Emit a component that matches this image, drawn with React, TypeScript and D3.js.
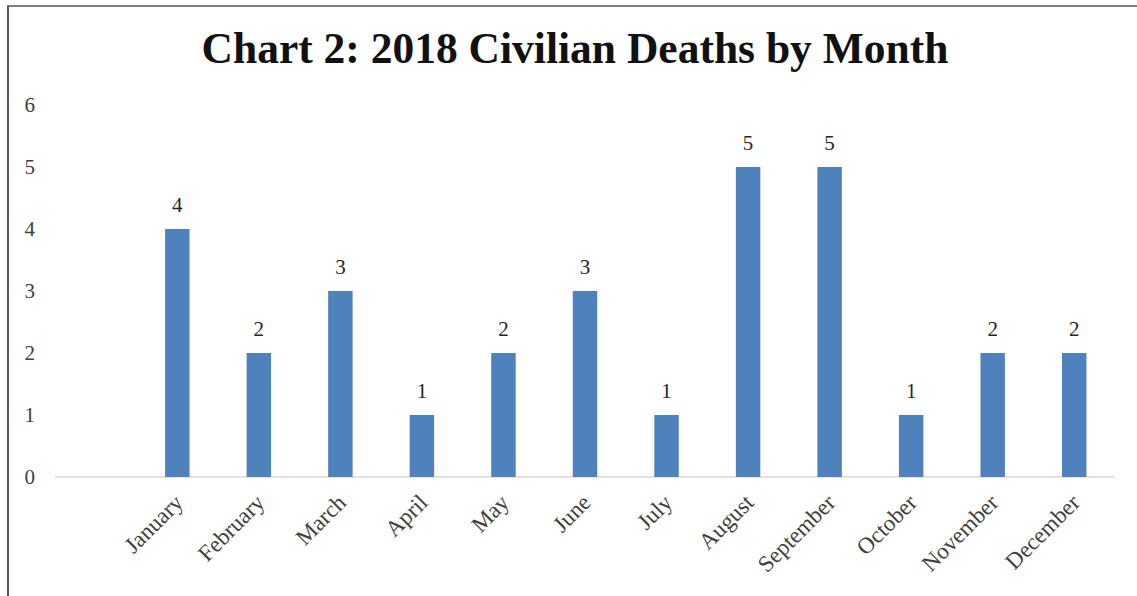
import { useMemo } from "react";
import * as d3 from "d3";

// Chart values
const MONTHS = [
  "January",
  "February",
  "March",
  "April",
  "May",
  "June",
  "July",
  "August",
  "September",
  "October",
  "November",
  "December",
];
const DEATHS = [4, 2, 3, 1, 2, 3, 1, 5, 5, 1, 2, 2];
const Y_TICKS = [0, 1, 2, 3, 4, 5, 6];
const TITLE = "Chart 2: 2018 Civilian Deaths by Month";

const WIDTH = 1137;
const HEIGHT = 596;
const PLOT = { left: 55, right: 1115, top: 105, bottom: 477 };
const FONT = "'Liberation Serif', 'Times New Roman', serif";
const BAR = "#4f81bd";
const TEXT = "#404040";

export default function App() {
  // the source sheet had an empty first row, so one blank band leads the axis
  const x = useMemo(
    () =>
      d3
        .scaleBand<string>()
        .domain(["", ...MONTHS])
        .range([PLOT.left, PLOT.right])
        .paddingInner(0.7)
        .paddingOuter(0.35),
    []
  );
  const y = useMemo(
    () => d3.scaleLinear().domain([0, 6]).range([PLOT.bottom, PLOT.top]),
    []
  );

  const rows = MONTHS.map((m, i) => ({ month: m, value: DEATHS[i] }));

  return (
    <svg
      width={WIDTH}
      height={HEIGHT}
      style={{ position: "absolute", left: 0, top: 0, background: "#fff" }}
      fontFamily={FONT}
    >
      {/* frame: top and left edges are visible in the crop */}
      <line x1={7} x2={WIDTH} y1={6} y2={6} stroke="#7f7f7f" strokeWidth={2} />
      <line x1={8} x2={8} y1={6} y2={HEIGHT} stroke="#595959" strokeWidth={2} />

      <text
        x={575}
        y={63}
        textAnchor="middle"
        fontSize={43.5}
        fontWeight="bold"
        fill="#111"
      >
        {TITLE}
      </text>

      {/* y tick labels, no gridlines */}
      {Y_TICKS.map((t) => (
        <text
          key={t}
          x={35}
          y={y(t)}
          dy="0.35em"
          textAnchor="end"
          fontSize={21}
          fill={TEXT}
        >
          {t}
        </text>
      ))}

      {/* baseline */}
      <line
        x1={PLOT.left}
        x2={PLOT.right}
        y1={y(0)}
        y2={y(0)}
        stroke="#d9d9d9"
        strokeWidth={1.5}
      />

      {rows.map((d) => {
        const bx = x(d.month)!;
        const cx = bx + x.bandwidth() / 2;
        return (
          <g key={d.month}>
            <rect
              x={bx}
              y={y(d.value)}
              width={x.bandwidth()}
              height={y(0) - y(d.value)}
              fill={BAR}
            />
            <text
              x={cx}
              y={y(d.value) - 17}
              textAnchor="middle"
              fontSize={21}
              fill="#262626"
            >
              {d.value}
            </text>
            <text
              transform={`translate(${cx + 7},${y(0) + 27}) rotate(-45)`}
              textAnchor="end"
              fontSize={23}
              fill={TEXT}
            >
              {d.month}
            </text>
          </g>
        );
      })}
    </svg>
  );
}
